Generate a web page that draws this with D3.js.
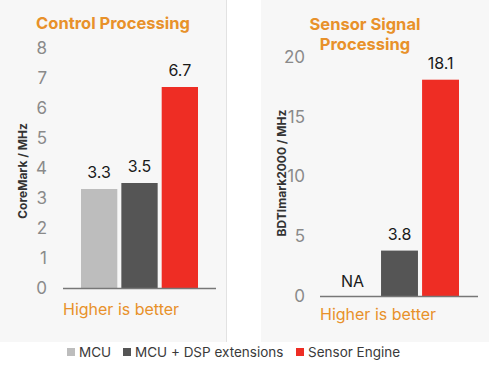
<!DOCTYPE html>
<html>
<head>
<meta charset="utf-8">
<script src="https://cdn.jsdelivr.net/npm/d3@7"></script>
<style>
  body { margin: 0; background: #fff; font-family: Inter, "Open Sans", sans-serif; }
  svg { display: block; }
</style>
</head>
<body>
<script>
var categories = ["MCU", "MCU + DSP extensions", "Sensor Engine"];
var controlValues = [3.3, 3.5, 6.7];
var sensorValues = [null, 3.8, 18.1];
var controlTicks = [0, 1, 2, 3, 4, 5, 6, 7, 8];
var sensorTicks = [0, 5, 10, 15, 20];

var colors = ["#bdbdbd", "#555555", "#ee2d24"];
var orange = "#e8912a";

let svg = d3.select("body")
    .append("svg")
    .attr("width", 500)
    .attr("height", 367);

let color = d3.scaleOrdinal().domain(categories).range(colors);

// one panel per chart
function drawPanel(opts) {
    let g = svg.append("g");

    g.append("rect")
        .attr("x", opts.panel[0])
        .attr("y", 0)
        .attr("width", opts.panel[1] - opts.panel[0])
        .attr("height", 342)
        .attr("fill", "#f7f7f7");

    let yScale = d3.scaleLinear()
        .domain([0, d3.max(opts.ticks)])
        .range([opts.base, opts.top]);

    let xScale = d3.scaleBand()
        .domain(categories)
        .range(opts.bars)
        .paddingInner(0.1);

    let yAxis = d3.axisLeft(yScale)
        .tickValues(opts.ticks)
        .tickSize(0)
        .tickPadding(0);

    let ax = g.append("g")
        .attr("transform", "translate(" + opts.tickX + ",0)")
        .call(yAxis);
    ax.select(".domain").remove();
    ax.selectAll("text")
        .attr("fill", "#8a8a8a")
        .style("font-size", "17px")
        .style("font-family", "Inter, sans-serif");

    // bars
    g.selectAll(".bar")
        .data(opts.values.map(function(v, i) { return {cat: categories[i], v: v}; }))
        .enter()
        .filter(function(d) { return d.v !== null; })
        .append("rect")
        .attr("x", function(d) { return xScale(d.cat); })
        .attr("y", function(d) { return yScale(d.v); })
        .attr("width", xScale.bandwidth())
        .attr("height", function(d) { return yScale(0) - yScale(d.v); })
        .attr("fill", function(d) { return color(d.cat); });

    // value labels
    g.selectAll(".valueLabel")
        .data(opts.values.map(function(v, i) { return {cat: categories[i], v: v}; }))
        .enter()
        .append("text")
        .attr("x", function(d) { return xScale(d.cat) + xScale.bandwidth() / 2 + (d.v === null ? -6 : 0); })
        .attr("y", function(d) { return d.v === null ? yScale(0) - 9 : yScale(d.v) - 11; })
        .attr("text-anchor", "middle")
        .attr("fill", "#1a1a1a")
        .style("font-size", "16px")
        .text(function(d) { return d.v === null ? "NA" : d3.format(".1f")(d.v); });

    // baseline
    g.append("line")
        .attr("x1", opts.axis[0])
        .attr("x2", opts.axis[1])
        .attr("y1", yScale(0) + 0.5)
        .attr("y2", yScale(0) + 0.5)
        .attr("stroke", "#777")
        .attr("stroke-width", 1.5);

    // title
    let title = g.append("text")
        .attr("x", opts.titleX)
        .attr("y", opts.titleY)
        .attr("text-anchor", "middle")
        .attr("fill", orange)
        .style("font-size", "16.5px")
        .style("font-weight", "bold");
    opts.title.forEach(function(line, i) {
        title.append("tspan")
            .attr("x", opts.titleX)
            .attr("dy", i === 0 ? 0 : 20)
            .text(line);
    });

    // y axis label
    g.append("text")
        .attr("transform", "translate(" + opts.labelX + "," + opts.labelY + ") rotate(-90)")
        .attr("text-anchor", "middle")
        .attr("fill", "#333")
        .style("font-size", "12px")
        .style("font-weight", "bold")
        .text(opts.yLabel);

    g.append("text")
        .attr("x", opts.axis[0])
        .attr("y", opts.noteY)
        .attr("fill", orange)
        .style("font-size", "16px")
        .text("Higher is better");
}

drawPanel({
    panel: [0, 226], base: 288, top: 48, ticks: controlTicks, values: controlValues,
    bars: [81, 198], axis: [63, 216], tickX: 47,
    title: ["Control Processing"], titleX: 113, titleY: 29,
    yLabel: "CoreMark / MHz", labelX: 27, labelY: 171, noteY: 315
});

drawPanel({
    panel: [261, 489], base: 296, top: 57, ticks: sensorTicks, values: sensorValues,
    bars: [340, 459], axis: [320, 478], tickX: 305,
    title: ["Sensor Signal", "Processing"], titleX: 365, titleY: 30,
    yLabel: "BDTImark2000 / MHz", labelX: 286, labelY: 173, noteY: 320
});

// divider shadow on left panel edge
svg.append("line")
    .attr("x1", 226.5).attr("x2", 226.5)
    .attr("y1", 0).attr("y2", 342)
    .attr("stroke", "#e2e2e2");

// legend
let legendX = [67, 123, 296];
let legend = svg.append("g");
categories.forEach(function(c, i) {
    legend.append("rect")
        .attr("x", legendX[i])
        .attr("y", 348)
        .attr("width", 8)
        .attr("height", 8)
        .attr("fill", color(c));
    legend.append("text")
        .attr("x", legendX[i] + 12)
        .attr("y", 357)
        .attr("fill", "#3a3a3a")
        .style("font-size", "13.5px")
        .text(c);
});
</script>
</body>
</html>
